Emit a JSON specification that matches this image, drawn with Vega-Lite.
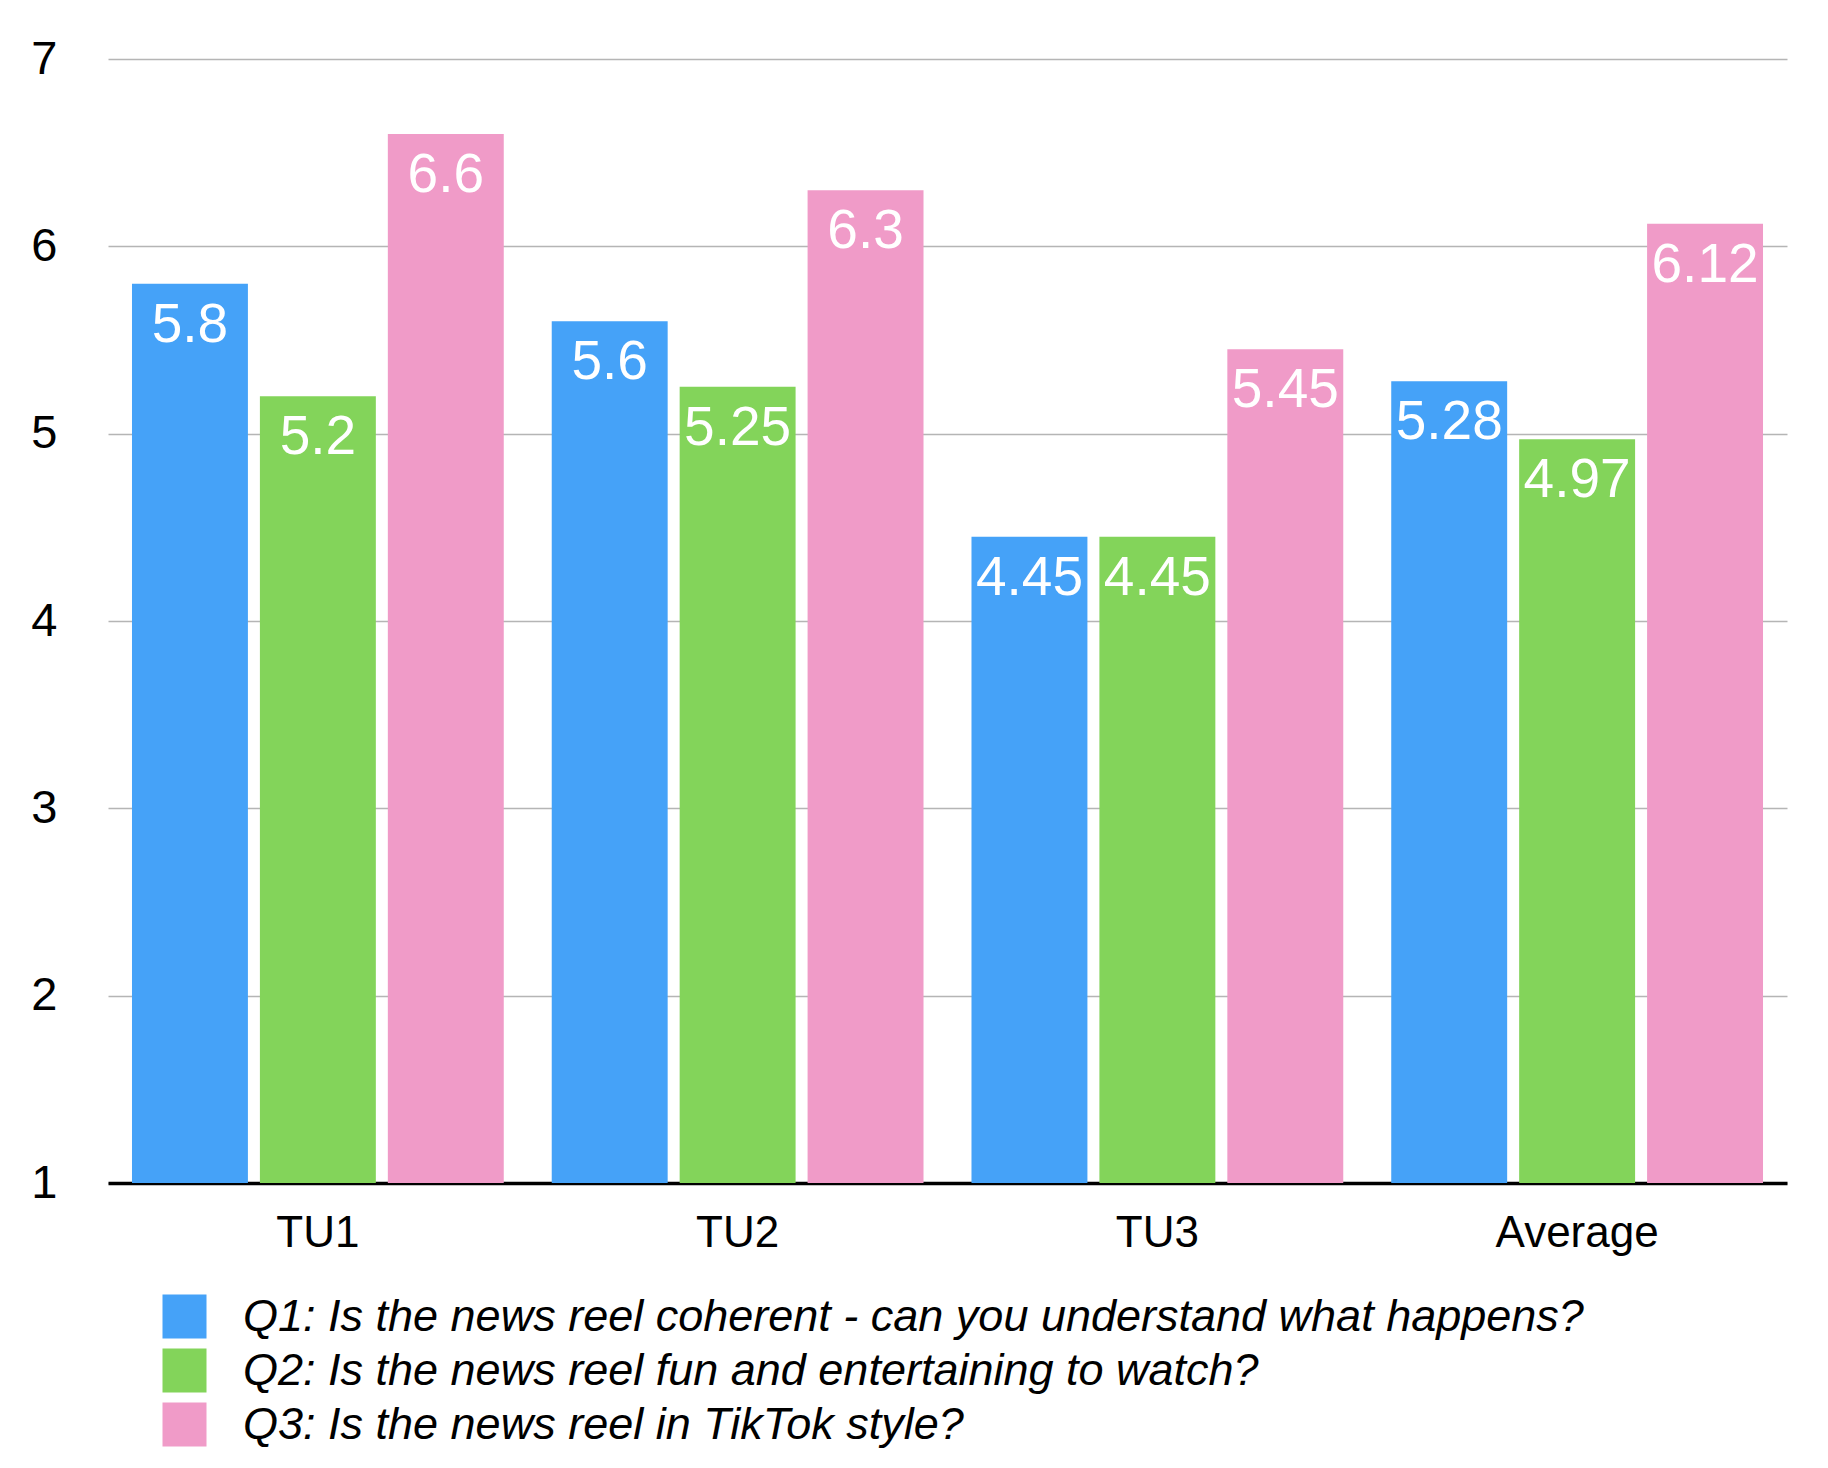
{
  "$schema": "https://vega.github.io/schema/vega-lite/v6.json",
  "width": 1679,
  "height": 1124,
  "autosize": {"type": "none"},
  "padding": {"left": 108, "top": 59, "right": 41, "bottom": 285},
  "background": "white",
  "config": {
    "font": "Liberation Sans",
    "view": {"stroke": null}
  },
  "data": {
    "values": [
      {"group": "TU1", "question": "Q1: Is the news reel coherent - can you understand what happens?", "value": 5.8},
      {"group": "TU1", "question": "Q2: Is the news reel fun and entertaining to watch?", "value": 5.2},
      {"group": "TU1", "question": "Q3: Is the news reel in TikTok style?", "value": 6.6},
      {"group": "TU2", "question": "Q1: Is the news reel coherent - can you understand what happens?", "value": 5.6},
      {"group": "TU2", "question": "Q2: Is the news reel fun and entertaining to watch?", "value": 5.25},
      {"group": "TU2", "question": "Q3: Is the news reel in TikTok style?", "value": 6.3},
      {"group": "TU3", "question": "Q1: Is the news reel coherent - can you understand what happens?", "value": 4.45},
      {"group": "TU3", "question": "Q2: Is the news reel fun and entertaining to watch?", "value": 4.45},
      {"group": "TU3", "question": "Q3: Is the news reel in TikTok style?", "value": 5.45},
      {"group": "Average", "question": "Q1: Is the news reel coherent - can you understand what happens?", "value": 5.28},
      {"group": "Average", "question": "Q2: Is the news reel fun and entertaining to watch?", "value": 4.97},
      {"group": "Average", "question": "Q3: Is the news reel in TikTok style?", "value": 6.12}
    ]
  },
  "encoding": {
    "x": {
      "field": "group", "type": "nominal", "sort": ["TU1", "TU2", "TU3", "Average"],
      "scale": {"paddingInner": 0, "paddingOuter": 0},
      "axis": {"title": null, "labelAngle": 0, "ticks": false, "domain": true, "domainColor": "black", "domainWidth": 3.5, "labelFontSize": 44, "labelColor": "black", "labelPadding": 28, "grid": false}
    },
    "xOffset": {
      "field": "question", "type": "nominal",
      "scale": {"paddingInner": 0.09375, "paddingOuter": 0.1875}
    },
    "y": {
      "field": "value", "type": "quantitative",
      "scale": {"domain": [1, 7], "zero": false, "nice": false},
      "axis": {"title": null, "values": [1, 2, 3, 4, 5, 6, 7], "ticks": false, "domain": false, "grid": true, "gridColor": "#b5b5b5", "gridWidth": 1.6, "labelFontSize": 47, "labelColor": "black", "labelPadding": 51}
    }
  },
  "layer": [
    {
      "mark": {"type": "bar"},
      "encoding": {
        "y2": {"datum": 1},
        "color": {
          "field": "question", "type": "nominal",
          "scale": {"range": ["#45a2f8", "#83d45a", "#f09bc8"]},
          "legend": {
            "title": null, "orient": "none", "legendX": 54, "legendY": 1235, "direction": "vertical",
            "symbolType": "square", "symbolSize": 1936, "symbolStrokeWidth": 0, "symbolOpacity": 1,
            "labelFontSize": 45, "labelFontStyle": "italic", "labelColor": "black", "labelLimit": 2000, "labelOffset": 36, "rowPadding": 8, "padding": 0
          }
        }
      }
    },
    {
      "mark": {"type": "text", "color": "white", "baseline": "top", "dy": 15, "fontSize": 55},
      "encoding": {
        "text": {"field": "value", "type": "quantitative", "format": "~g"}
      }
    }
  ]
}
